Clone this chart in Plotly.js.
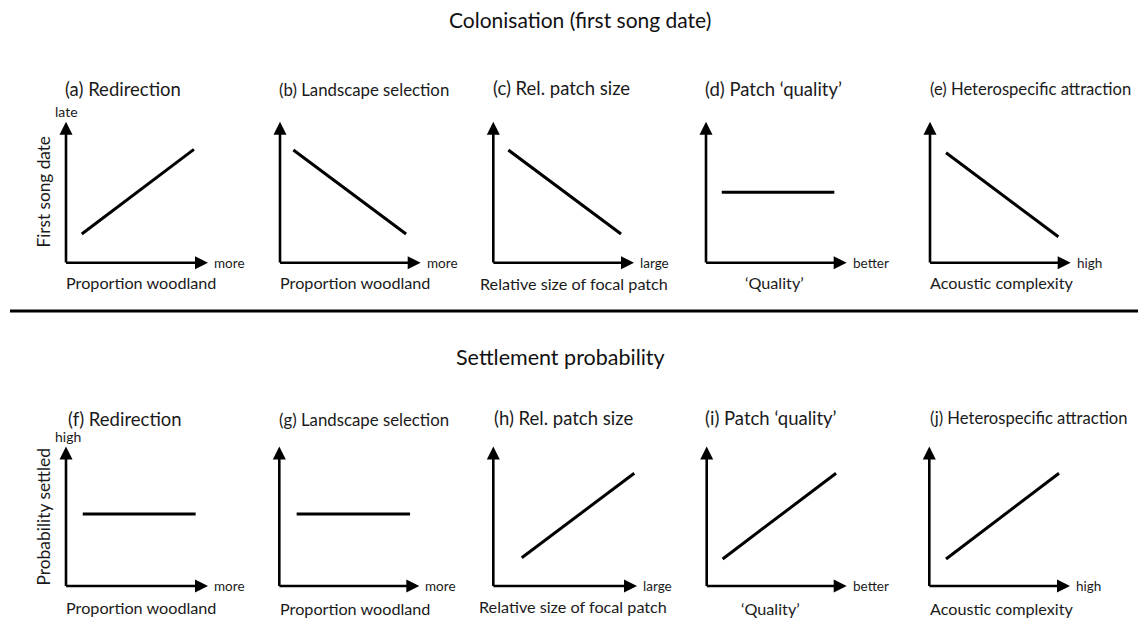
<!DOCTYPE html>
<html>
<head>
<meta charset="utf-8">
<script src="https://cdn.plot.ly/plotly-3.0.1.min.js"></script>
<style>html,body{margin:0;padding:0;background:#fff;}#chart{width:1141px;height:619px;}</style>
</head>
<body>
<div id="chart"></div>
<script>
// ---- data ----
const sectionTitles = ['Colonisation (first song date)', 'Settlement probability'];
const yAxisTitles = ['First song date', 'Probability settled'];
const yHighLabels = ['late', 'high'];
const panelTitles = ['(a) Redirection', '(b) Landscape selection', '(c) Rel. patch size', '(d) Patch \u2018quality\u2019', '(e) Heterospecific attraction',
                     '(f) Redirection', '(g) Landscape selection', '(h) Rel. patch size', '(i) Patch \u2018quality\u2019', '(j) Heterospecific attraction'];
const xAxisLabels = ['Proportion woodland', 'Proportion woodland', 'Relative size of focal patch', '\u2018Quality\u2019', 'Acoustic complexity',
                     'Proportion woodland', 'Proportion woodland', 'Relative size of focal patch', '\u2018Quality\u2019', 'Acoustic complexity'];
const xEndLabels = ['more', 'more', 'large', 'better', 'high', 'more', 'more', 'large', 'better', 'high'];
// line endpoints (axis units 0..10)
const lineX = [[1.11, 9.01], [0.95, 8.96], [1.07, 9.08], [1.12, 9.12], [1.14, 9.12],
               [1.18, 9.13], [1.24, 9.34], [1.98, 9.81], [1.14, 9.24], [1.19, 9.22]];
const lineY = [[2.04, 8.04], [7.99, 2.04], [7.99, 2.04], [4.99, 4.99], [7.8, 1.84],
               [5.16, 5.16], [5.16, 5.16], [2.03, 8.08], [1.94, 8.08], [1.94, 8.08]];

// ---- layout geometry (pixels) ----
const W = 1141, H = 619;
const panelX0 = [66, 280, 493.3, 706, 930, 66, 279.3, 493.3, 706.7, 929.3];
const panelX1 = [208, 420.7, 634, 846.7, 1070.7, 208, 419.3, 637, 846.7, 1070];
const rowY0 = [262.7, 586];
const rowY1 = [121.7, 446.5];
const titleX = [63, 277, 491, 703, 928, 66, 277, 491.7, 703, 928];
const titleY = [89, 89, 88, 89, 89, 419, 419, 418, 418, 418];
const titleSize = [18.5, 16.8, 18.5, 18.5, 16.6, 18.5, 16.8, 18.5, 18.5, 16.6];
const xlabCX = [141, 355, 573.7, 774, 1001.7, 141, 355, 573.3, 770, 1001.7];
const xlabY = [282, 282, 283, 282, 282, 607, 608, 606, 608, 608];

const px = x => x / W;
const py = y => 1 - y / H;
const FONT = 'Lato, "Open Sans", sans-serif';
const TXT = '#1a1a1a';

const data = [];
const layout = {
  width: W, height: H,
  margin: {l: 0, r: 0, t: 0, b: 0},
  paper_bgcolor: '#fff', plot_bgcolor: 'rgba(0,0,0,0)',
  showlegend: false,
  font: {family: FONT, color: TXT},
  annotations: [], shapes: []
};

for (let i = 0; i < 10; i++) {
  const n = i === 0 ? '' : String(i + 1);
  const row = i < 5 ? 0 : 1;
  const xa = 'xaxis' + n, ya = 'yaxis' + n;
  const axCommon = {range: [0, 10], showgrid: false, zeroline: false, showticklabels: false,
                    ticks: '', showline: false, fixedrange: true};
  layout[xa] = Object.assign({}, axCommon, {domain: [px(panelX0[i]), px(panelX1[i])], anchor: 'y' + n});
  layout[ya] = Object.assign({}, axCommon, {domain: [py(rowY0[row]), py(rowY1[row])], anchor: 'x' + n});
  data.push({
    type: 'scatter', mode: 'lines', x: lineX[i], y: lineY[i],
    xaxis: 'x' + n, yaxis: 'y' + n,
    line: {color: '#000', width: 3}, hoverinfo: 'skip', cliponaxis: false
  });
  // axis arrows
  const arr = {xref: 'x' + n, yref: 'y' + n, axref: 'x' + n, ayref: 'y' + n, text: '',
               showarrow: true, arrowhead: 2, arrowsize: 1, arrowwidth: 2.6, arrowcolor: '#000', standoff: 0};
  layout.annotations.push(Object.assign({}, arr, {x: 10, y: 0, ax: -0.1, ay: 0}));
  layout.annotations.push(Object.assign({}, arr, {x: 0, y: 10, ax: 0, ay: -0.1}));
  // panel title
  layout.annotations.push({xref: 'paper', yref: 'paper', x: px(titleX[i]), y: py(titleY[i]),
    xanchor: 'left', yanchor: 'middle', showarrow: false, text: panelTitles[i],
    font: {family: FONT, size: titleSize[i], color: TXT}});
  // x label
  layout.annotations.push({xref: 'paper', yref: 'paper', x: px(xlabCX[i]), y: py(xlabY[i]),
    xanchor: 'center', yanchor: 'middle', showarrow: false, text: xAxisLabels[i],
    font: {family: FONT, size: 16.2, color: TXT}});
  // end label
  layout.annotations.push({xref: 'paper', yref: 'paper', x: px(panelX1[i] + 4), y: py(rowY0[row]),
    xanchor: 'left', yanchor: 'middle', showarrow: false, text: xEndLabels[i],
    font: {family: FONT, size: 13.5, color: TXT}});
}

// section titles
layout.annotations.push({xref: 'paper', yref: 'paper', x: px(580), y: py(20), xanchor: 'center', yanchor: 'middle',
  showarrow: false, text: sectionTitles[0], font: {family: FONT, size: 21, color: '#111'}});
layout.annotations.push({xref: 'paper', yref: 'paper', x: px(560), y: py(357), xanchor: 'center', yanchor: 'middle',
  showarrow: false, text: sectionTitles[1], font: {family: FONT, size: 21.5, color: '#111'}});
// y titles
layout.annotations.push({xref: 'paper', yref: 'paper', x: px(43), y: py(191.5), xanchor: 'center', yanchor: 'middle',
  showarrow: false, textangle: -90, text: yAxisTitles[0], font: {family: FONT, size: 17.2, color: TXT}});
layout.annotations.push({xref: 'paper', yref: 'paper', x: px(43), y: py(516.5), xanchor: 'center', yanchor: 'middle',
  showarrow: false, textangle: -90, text: yAxisTitles[1], font: {family: FONT, size: 17.4, color: TXT}});
// high-end labels of y axes
layout.annotations.push({xref: 'paper', yref: 'paper', x: px(66), y: py(111.7), xanchor: 'center', yanchor: 'middle',
  showarrow: false, text: yHighLabels[0], font: {family: FONT, size: 14, color: TXT}});
layout.annotations.push({xref: 'paper', yref: 'paper', x: px(68), y: py(436), xanchor: 'center', yanchor: 'middle',
  showarrow: false, text: yHighLabels[1], font: {family: FONT, size: 14, color: TXT}});
// separator
layout.shapes.push({type: 'line', xref: 'paper', yref: 'paper', x0: px(10), x1: px(1138), y0: py(311), y1: py(311),
  line: {color: '#000', width: 3}});

Plotly.newPlot('chart', data, layout, {displayModeBar: false, staticPlot: true});
</script>
</body>
</html>
